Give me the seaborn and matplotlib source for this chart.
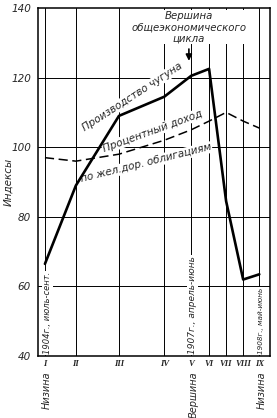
import matplotlib
matplotlib.use("Agg")
import matplotlib.pyplot as plt
import seaborn as sns
import pandas as pd

# ---- data ----
stages = ["I", "II", "III", "IV", "V", "VI", "VII", "VIII", "IX"]
stage_pos = [0, 6.9, 16.5, 26.6, 32.6, 36.6, 40.4, 44.2, 47.8]   # months from 1904 low
pig_iron = [66.5, 89, 109, 114.5, 120.5, 122.5, 84.5, 62, 63.5]
bond_yield = [97, 96, 98, 102, 105, 107.5, 110, 107.5, 105.5]
y_ticks = [40, 60, 80, 100, 120, 140]

df = pd.DataFrame({"pos": stage_pos, "iron": pig_iron, "bond": bond_yield})

sns.set_theme(style="white")
plt.rcParams["font.family"] = ["DejaVu Sans"]

fig = plt.figure(figsize=(2.77, 4.18), dpi=100)
ax = fig.add_axes([0.137, 0.148, 0.838, 0.833])

sns.lineplot(data=df, x="pos", y="iron", ax=ax, color="black", lw=1.9, zorder=5)
sns.lineplot(data=df, x="pos", y="bond", ax=ax, color="black", lw=1.1,
             linestyle=(0, (6, 3)), zorder=5)

ax.set_xlim(-1.56, 50.2)
ax.set_ylim(40, 140)

# grid
for y in y_ticks[1:-1]:
    ax.axhline(y, color="black", lw=0.7, zorder=1)
for x in stage_pos:
    ax.axvline(x, color="black", lw=0.7, zorder=1)

for s in ax.spines.values():
    s.set_color("black")
    s.set_linewidth(1.1)

ax.set_yticks(y_ticks)
ax.set_yticklabels([str(v) for v in y_ticks], fontstyle="italic", fontsize=7.5)
ax.tick_params(axis="y", length=3, width=0.8, pad=2, color="black")
ax.set_xticks(stage_pos)
ax.set_xticklabels(stages, family="Liberation Serif", fontstyle="italic",
                   fontweight="bold", fontsize=6.2)
ax.tick_params(axis="x", length=0, pad=3)
ax.set_xlabel("")
ax.set_ylabel("Индексы", fontstyle="italic", fontsize=7.5, labelpad=4)
ax.yaxis.set_label_coords(-0.105, 0.50)

box = dict(facecolor="white", edgecolor="none", pad=0.6)

# vertical dates inside plot
ax.text(stage_pos[0] + 0.6, 40.6, "1904г., июль-сент.", rotation=90, ha="center",
        va="bottom", fontsize=6, fontstyle="italic", bbox=box, zorder=3)
ax.text(stage_pos[4] + 0.3, 40.6, "1907г., апрель-июнь", rotation=90, ha="center",
        va="bottom", fontsize=6.5, fontstyle="italic", bbox=box, zorder=3)
ax.text(stage_pos[8] + 0.3, 40.6, "1908г., май-июнь", rotation=90, ha="center",
        va="bottom", fontsize=5.2, fontstyle="italic", bbox=box, zorder=3)

# labels under axis
for idx, lab in [(0, "Низина"), (4, "Вершина"), (8, "Низина")]:
    ax.text(stage_pos[idx] + 0.5, -0.043, lab, rotation=90, ha="center", va="top",
            fontsize=7, fontstyle="italic",
            transform=ax.get_xaxis_transform())

# curve labels
ax.text(19.6, 114.5, "Производство чугуна", rotation=33, ha="center", va="center",
        fontsize=7.5, fontstyle="italic", bbox=box, zorder=3)
ax.text(24.0, 104.6, "Процентный доход", rotation=20, ha="center", va="center",
        fontsize=7.5, fontstyle="italic", bbox=box, zorder=3)
ax.text(22.5, 95.4, "по жел.дор. облигациям", rotation=14, ha="center", va="center",
        fontsize=7.5, fontstyle="italic", bbox=box, zorder=3)

# top annotation
ax.text(32.1, 134.5, "Вершина\nобщеэкономического\nцикла", ha="center", va="center",
        fontsize=7.3, fontstyle="italic", linespacing=1.15, bbox=box, zorder=3)
ax.annotate("", xy=(32.1, 124.0), xytext=(32.1, 129.0),
            arrowprops=dict(arrowstyle="-|>", color="black", lw=1.2,
                            mutation_scale=9), zorder=6)

fig.savefig("out.png", dpi=100, facecolor="white")
